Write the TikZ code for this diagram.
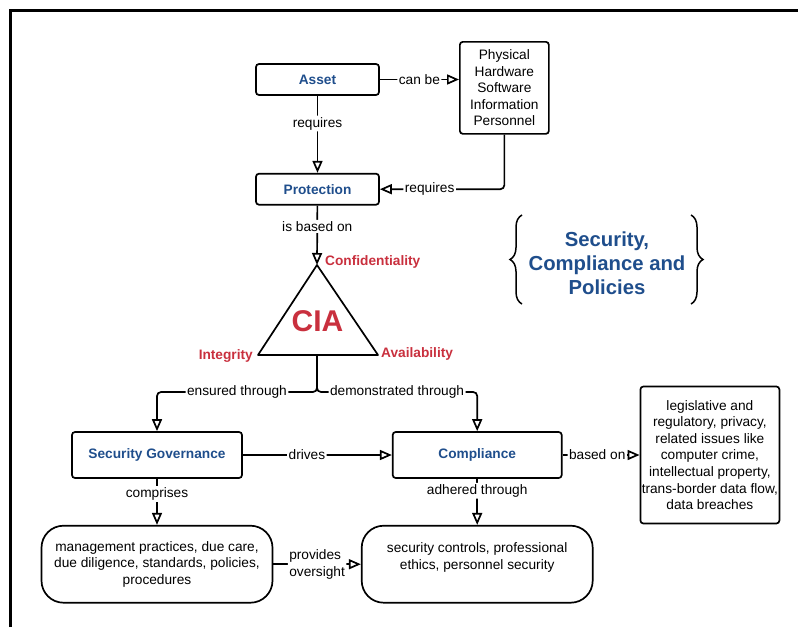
\documentclass[tikz,border=0pt]{standalone}
\usepackage{fontspec}
\setmainfont{Liberation Sans}
\usepackage{tikz}
\usetikzlibrary{arrows.meta,positioning,decorations.pathreplacing}
\definecolor{titleblue}{HTML}{1F4E8C}
\definecolor{ciared}{HTML}{C9303E}
\newcommand{\normsize}{\fontsize{13.7}{16.6}\selectfont}
\tikzset{
    %Define standard arrow tip
    >={Triangle[open,length=12pt,width=10pt]},
    %Define style for boxes
    conceptbox/.style={
           rectangle,
           rounded corners=3pt,
           draw=black, line width=1.7pt,
           minimum width=123pt,
           minimum height=31pt,
           font=\normsize\bfseries,
           text=titleblue,
           text centered},
    listbox/.style={
           rectangle,
           rounded corners=3pt,
           draw=black, line width=1.7pt,
           inner sep=1pt,
           font=\normsize,
           align=center},
    roundbox/.style={
           rectangle,
           rounded corners=22pt,
           draw=black, line width=1.7pt,
           minimum width=231pt,
           minimum height=77pt,
           font=\normsize,
           align=center},
    ciatext/.style={
           font=\normsize\bfseries,
           text=ciared,
           inner sep=1pt},
    % Define label style
    lbl/.style={
           fill=white,
           font=\normsize,
           inner sep=1.5pt},
    % Define arrow style
    pil/.style={
           ->,
           line width=1.7pt,
           rounded corners=4pt},
    bracket/.style={
           decorate,
           decoration={brace,amplitude=12pt},
           line width=1.5pt}
}

\begin{document}
\begin{tikzpicture}[x=1pt,y=-1pt]
\useasboundingbox (0,0) rectangle (798,627);
\draw[line width=3pt] (10,627) -- (10,10) -- (798,10);
 %nodes
\node[conceptbox] (asset) at (317.5,79.5) {Asset};
\node[conceptbox, below=77pt of asset] (prot) {Protection};
\node[listbox, minimum width=89pt, minimum height=92pt, anchor=north west] (phys) at (459,41)
  {Physical\\Hardware\\Software\\Information\\Personnel};
 %CIA triangle
\coordinate (apex) at (317,265);
\coordinate (baseL) at (258,355);
\coordinate (baseR) at (378,355);
\coordinate (baseM) at (317,355);
\draw[line width=1.7pt, line join=round] (apex) -- (baseL) -- (baseR) -- cycle;
\node[font=\fontsize{30}{36}\selectfont\bfseries, text=ciared] (cia) at (317.5,321) {CIA};
\node[ciatext, anchor=west] (conf) at (324,262) {Confidentiality};
\node[ciatext, anchor=east] (integ) at (254,356) {Integrity};
\node[ciatext, anchor=west] (avail) at (380,354) {Availability};
 %title
\node[font=\fontsize{20.3}{24}\selectfont\bfseries, text=titleblue, align=center] (title) at (607,263)
  {Security,\\Compliance and\\Policies};
\coordinate (lbtop) at (522,215);
\coordinate (lbbot) at (522,304);
\coordinate (rbtop) at (691,215);
\coordinate (rbbot) at (691,304);
\draw[bracket] (lbbot) -- (lbtop);
\draw[bracket] (rbtop) -- (rbbot);
 %lower nodes
\node[conceptbox, minimum width=170pt, minimum height=46pt] (gov) at (157,455) {Security Governance};
\node[conceptbox, minimum width=169pt, minimum height=46pt, right=149pt of gov] (comp) {Compliance};
\node[listbox, minimum width=139pt, minimum height=137pt, right=77pt of comp] (legal)
  {legislative and\\regulatory, privacy,\\related issues like\\computer crime,\\intellectual property,\\trans-border data flow,\\data breaches};
\node[roundbox, below=46pt of gov] (mgmt)
  {management practices, due care,\\due diligence, standards, policies,\\procedures};
\node[roundbox, below=46pt of comp] (ctrl)
  {security controls, professional\\ethics, personnel security\\~};
 %connectors
\draw[pil] (asset) -- node[lbl, pos=0.36]{requires} (prot);
\draw[pil] (asset.east) -- node[lbl]{can be} (asset.east -| phys.west);
\draw[pil] (phys.south) |- node[lbl, pos=0.8]{requires} (prot.east);
\draw[pil] (prot) -- node[lbl, pos=0.35]{is based on} (apex);
\draw[pil] (baseM) -- ++(0,37) -| node[lbl, pos=0.25]{ensured through} (gov.north);
\draw[pil] (baseM) -- ++(0,37) -| node[lbl, pos=0.25]{demonstrated through} (comp.north);
\draw[pil] (gov) -- node[lbl, pos=0.43]{drives} (comp);
\draw[pil] (comp) -- node[lbl, pos=0.45]{based on} (legal);
\draw[pil] (gov) -- node[lbl, pos=0.33]{comprises} (mgmt);
\draw[pil] (comp) -- node[lbl, pos=0.26]{adhered through} (ctrl);
\draw[pil] (mgmt) -- node[lbl, align=left]{provides\\oversight} (ctrl);
\end{tikzpicture}
\end{document}
